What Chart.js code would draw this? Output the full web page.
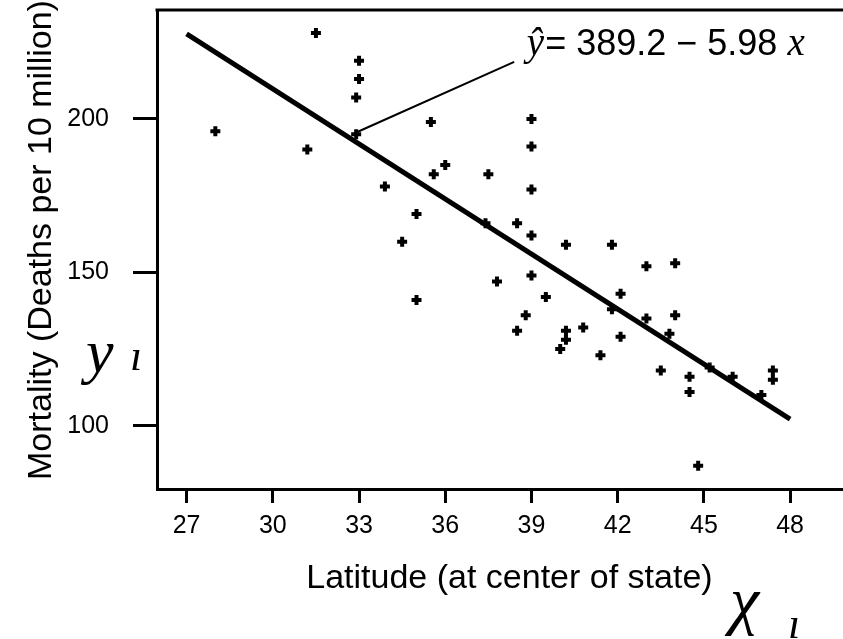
<!DOCTYPE html>
<html>
<head>
<meta charset="utf-8">
<title>Mortality vs Latitude</title>
<script src="https://cdn.jsdelivr.net/npm/chart.js@4.4.1/dist/chart.umd.min.js"></script>
<style>
  html, body { margin: 0; padding: 0; background: #fff; }
  #wrap { width: 843px; height: 639px; }
</style>
</head>
<body>
<div id="wrap"><canvas id="chart" width="843" height="639"></canvas></div>
<script>
// ── Data ─────────────────────────────────────────────────────────────────────

const latitude = [
    28.0, 31.5, 31.2, 33.0, 33.0, 32.9, 32.9, 33.9, 34.5, 35.0,
    35.0, 35.5, 35.6, 36.0, 37.5, 37.4, 37.8, 38.5, 38.8, 38.5,
    39.0, 39.0, 39.0, 39.0, 39.0, 39.5, 40.2, 40.2, 40.2, 40.0,
    40.8, 41.4, 41.8, 41.8, 42.1, 42.1, 43.0, 43.0, 43.5, 43.8,
    44.0, 44.0, 44.5, 44.5, 44.8, 45.2, 46.0, 47.0, 47.4, 47.4
];
const mortality = [
    196, 228, 190, 219, 213, 207, 195, 178, 160, 169,
    141, 199, 182, 185, 182, 166, 147, 166, 136, 131,
    200, 191, 177, 162, 149, 142, 159, 131, 128, 125,
    132, 123, 159, 138, 143, 129, 152, 135, 118, 130,
    153, 136, 116, 111, 87, 119, 116, 110, 118, 115
];

// fitted line  y-hat = 389.2 - 5.98 x, drawn between its end latitudes
const fitX = [27, 48];
const fitY = [227.7, 102.2];

// pointer from the fitted line up to the equation
const pointerX = [32.88, 38.4];
const pointerY = [195.5, 218.6];

const xTicks = [27, 30, 33, 36, 39, 42, 45, 48];
const yTicks = [100, 150, 200];

// leading no-break spaces nudge the centred titles as in the original
const xLabel = '\u00A0\u00A0Latitude (at center of state)';
const yLabel = '\u00A0\u00A0Mortality (Deaths per 10 million)';
const eqAt = { x: 38.84, y: 220.9 };

// ── Helpers ──────────────────────────────────────────────────────────────────

const SANS = "'Liberation Sans', Arial, sans-serif";
const SERIF = "'Liberation Serif', 'Times New Roman', serif";

function pairs(xs, ys) {
    return xs.map((x, i) => ({ x: x, y: ys[i] }));
}

// top frame line, equation text and the hand-written marks
const extras = {
    id: 'extras',
    afterDraw(chart) {
        const { ctx, chartArea, scales } = chart;
        ctx.save();

        ctx.strokeStyle = '#000';
        ctx.lineWidth = 3;
        ctx.beginPath();
        ctx.moveTo(chartArea.left - 1.5, chartArea.top);
        ctx.lineTo(chartArea.right, chartArea.top);
        ctx.stroke();

        // equation
        let x = scales.x.getPixelForValue(eqAt.x);
        const y = scales.y.getPixelForValue(eqAt.y);
        ctx.fillStyle = '#000';
        ctx.textBaseline = 'alphabetic';
        ctx.textAlign = 'left';
        ctx.font = 'italic 39px ' + SERIF;
        ctx.fillText('ŷ', x, y);
        x += ctx.measureText('ŷ').width + 1;
        ctx.font = '36px ' + SANS;
        const mid = '= 389.2 − 5.98 ';
        ctx.fillText(mid, x, y);
        x += ctx.measureText(mid).width;
        ctx.font = 'italic 39px ' + SERIF;
        ctx.fillText('x', x, y);

        // hand-written y_i and x_i
        ctx.font = 'italic 62px ' + SERIF;
        ctx.fillText('y', 86, 372);
        ctx.font = 'italic 44px ' + SERIF;
        ctx.fillText('ı', 130, 370);
        ctx.font = 'italic 66px ' + SERIF;
        ctx.fillText('χ', 730, 622);
        ctx.font = 'italic 44px ' + SERIF;
        ctx.fillText('ı', 788, 638);

        ctx.restore();
    }
};

// ── Chart ────────────────────────────────────────────────────────────────────

new Chart(document.getElementById('chart'), {
    type: 'scatter',
    data: {
        datasets: [
            {
                label: 'States',
                data: pairs(latitude, mortality),
                pointStyle: 'cross',
                pointRadius: 5,
                pointBorderWidth: 4,
                borderColor: '#000',
                backgroundColor: '#000'
            },
            {
                type: 'line',
                label: 'Fit',
                data: pairs(fitX, fitY),
                borderColor: '#000',
                borderWidth: 5,
                pointRadius: 0,
                fill: false
            },
            {
                type: 'line',
                label: 'Pointer',
                data: pairs(pointerX, pointerY),
                borderColor: '#000',
                borderWidth: 2,
                pointRadius: 0,
                fill: false
            }
        ]
    },
    options: {
        responsive: false,
        animation: false,
        layout: { autoPadding: false, padding: { top: 10, left: 0, right: 0, bottom: 0 } },
        plugins: {
            legend: { display: false },
            tooltip: { enabled: false }
        },
        scales: {
            x: {
                type: 'linear',
                position: 'bottom',
                min: 25.97,
                max: 49.84,
                afterBuildTicks: s => { s.ticks = xTicks.map(v => ({ value: v })); },
                afterFit: s => { s.height = 150; s.paddingLeft = 0; s.paddingRight = 0; },
                border: { color: '#000', width: 3 },
                grid: { drawOnChartArea: false, tickLength: 14, tickWidth: 3, tickColor: '#000' },
                ticks: { color: '#000', padding: 8, font: { family: SANS, size: 25 } },
                title: {
                    display: true,
                    text: xLabel,
                    color: '#000',
                    font: { family: SANS, size: 34 },
                    padding: { top: 0, bottom: 40 }
                }
            },
            y: {
                type: 'linear',
                min: 79.4,
                max: 235.5,
                afterBuildTicks: s => { s.ticks = yTicks.map(v => ({ value: v })); },
                afterFit: s => { s.width = 157; s.paddingTop = 0; s.paddingBottom = 0; },
                border: { color: '#000', width: 3 },
                grid: { drawOnChartArea: false, tickLength: 24, tickWidth: 3, tickColor: '#000' },
                ticks: { color: '#000', padding: 24, font: { family: SANS, size: 25 } },
                title: {
                    display: true,
                    text: yLabel,
                    color: '#000',
                    font: { family: SANS, size: 34 },
                    padding: { top: 21, bottom: 0 }
                }
            }
        }
    },
    plugins: [extras]
});
</script>
</body>
</html>
